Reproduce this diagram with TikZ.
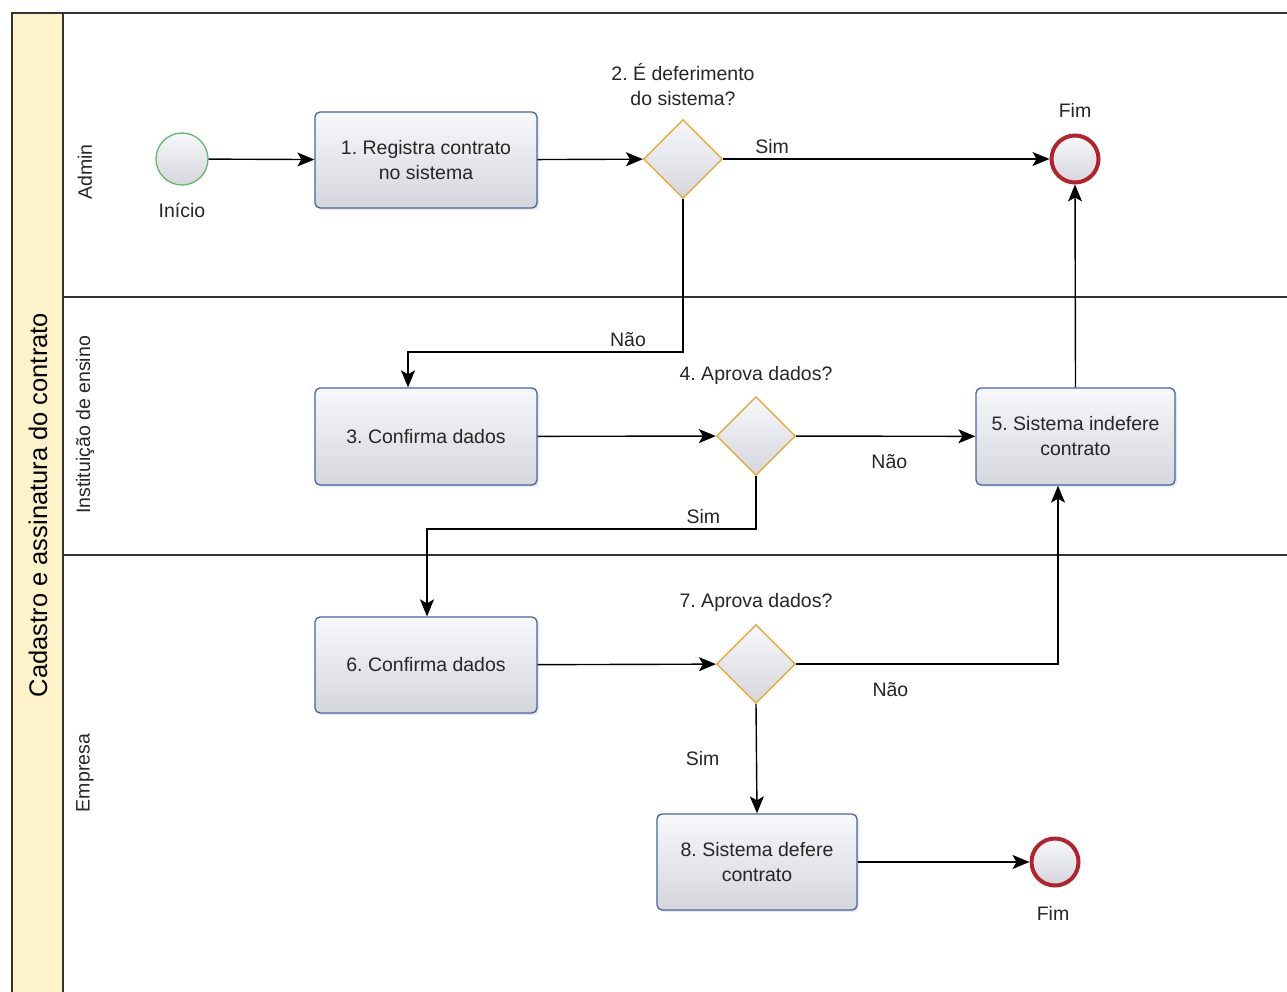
\documentclass[tikz,border=0pt]{standalone}
\usepackage{fontspec}
\setmainfont{Liberation Sans}
\usetikzlibrary{arrows.meta,shapes.geometric,shadows,calc}
\definecolor{poolyellow}{RGB}{253,242,202}
\definecolor{taskblue}{RGB}{70,100,160}
\definecolor{gwgold}{RGB}{228,172,62}
\definecolor{startgreen}{RGB}{100,185,100}
\definecolor{endred}{RGB}{180,35,45}
\definecolor{fillA}{RGB}{246,248,251}
\definecolor{fillB}{RGB}{212,214,220}
\frenchspacing
\begin{document}
\frenchspacing
\begin{tikzpicture}[x=1pt,y=-1pt,
  txt/.style={font=\fontsize{19.5}{25}\selectfont\frenchspacing, text=black!85},
  taskbox/.style={txt, rectangle, rounded corners=5pt, draw=taskblue, line width=1.3pt,
    top color=fillA, bottom color=fillB, align=center,
    drop shadow={opacity=0.18, shadow xshift=2pt, shadow yshift=-2pt}},
  gateway/.style={diamond, aspect=1, inner sep=0pt, minimum width=79pt, minimum height=79pt,
    draw=gwgold, line width=1.4pt, top color=fillA, bottom color=fillB},
  startev/.style={circle, inner sep=0pt, minimum size=52pt, draw=startgreen, line width=1.3pt,
    top color=fillA, bottom color=fillB},
  endev/.style={circle, inner sep=0pt, minimum size=47pt, draw=endred, line width=4pt,
    top color=fillA, bottom color=fillB},
  flow/.style={draw=black, line width=1.4pt, -{Stealth[length=17pt,width=14pt,inset=4pt]}},
  lbl/.style={txt}
]
\useasboundingbox (0,0) rectangle (1287,992);
\clip (0,0) rectangle (1287,992);
\fill[white] (0,0) rectangle (1287,992);

% pool
\fill[poolyellow] (12,13) rectangle (63,1000);
\draw[line width=1.4pt, black!80] (1300,13) -- (12,13) -- (12,1000);
\draw[line width=1.4pt, black!80] (63,13) -- (63,1000);
\draw[line width=1.4pt, black!80] (63,297) -- (1300,297);
\draw[line width=1.4pt, black!80] (63,555) -- (1300,555);

\node[font=\fontsize{25.5}{30}\selectfont, rotate=90] (pool) at (38,505) {Cadastro e assinatura do contrato};
\node[txt, rotate=90] (lane1) at (85,172) {Admin};
\node[txt, rotate=90] (lane2) at (85,425) {Instituição de ensino};
\node[txt, rotate=90] (lane3) at (85,773) {Empresa};

% nodes
\node[startev] (start) at (182,159) {};
\node[lbl] (startlbl) at (182,210) {Início};

\node[taskbox, minimum width=222pt, minimum height=96pt] (t1) at (426,160) {1. Registra contrato\\no sistema};
\node[gateway] (g2) at (683,159) {};
\node[lbl, align=center] (g2lbl) at (683,85) {2. É deferimento\\do sistema?};
\node[endev] (end1) at (1075,159) {};
\node[lbl] (end1lbl) at (1075,110) {Fim};

\node[taskbox, minimum width=222pt, minimum height=97pt] (t3) at (426,436.5) {3. Confirma dados};
\node[gateway] (g4) at (756,436) {};
\node[lbl] (g4lbl) at (756,375) {4. Aprova dados?};
\node[taskbox, minimum width=199pt, minimum height=97pt] (t5) at (1075.5,436.5) {5. Sistema indefere\\contrato};

\node[taskbox, minimum width=222pt, minimum height=96pt] (t6) at (426,665) {6. Confirma dados};
\node[gateway] (g7) at (756,664) {};
\node[lbl] (g7lbl) at (756,602) {7. Aprova dados?};

\node[taskbox, minimum width=200pt, minimum height=96pt] (t8) at (757,862) {8. Sistema defere\\contrato};
\node[endev] (end2) at (1055,862) {};
\node[lbl] (end2lbl) at (1053,913) {Fim};

% coordinates for bends
\coordinate (c1) at (408,352);
\coordinate (c2) at (427,529);
\coordinate (c3) at (1058,664);

% connectors
\draw[flow] (start) -- (t1);
\draw[flow] (t1) -- (g2);
\draw[flow] (g2) -- (end1) node[lbl, pos=0.15, above=1pt] {Sim};
\draw[flow] (g2.south) |- (c1) node[lbl, pos=0.6, above=1pt] {Não} -- (c1 |- t3.north);
\draw[flow] (t3) -- (g4);
\draw[flow] (g4) -- (t5) node[lbl, pos=0.52, below=14pt] {Não};
\draw[flow] (t5.north) -- (end1.south);
\draw[flow] (g4.south) |- (c2) node[lbl, pos=0.58, above=1pt] {Sim} -- (c2 |- t6.north);
\draw[flow] (t6) -- (g7);
\draw[flow] (g7.east) -- (c3) node[lbl, pos=0.36, below=14pt] {Não} -- (c3 |- t5.south);
\draw[flow] (g7.south) -- (t8.north) node[lbl, midway, left=33pt] {Sim};
\draw[flow] (t8) -- (end2);
\end{tikzpicture}
\end{document}
